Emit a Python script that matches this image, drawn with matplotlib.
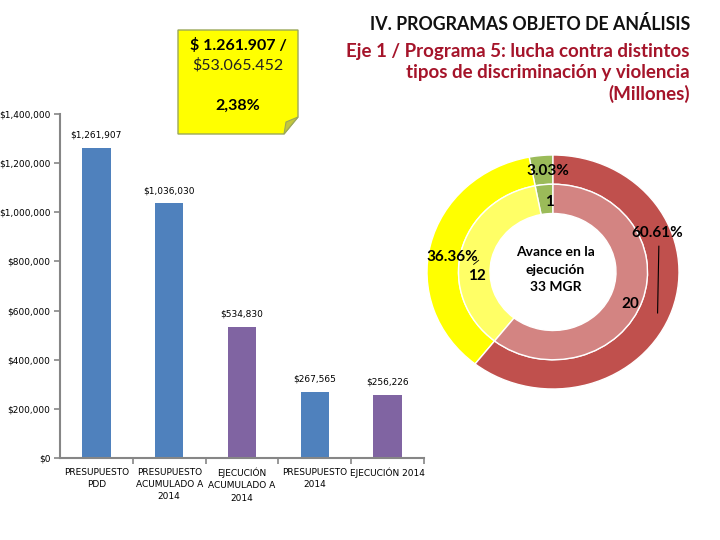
import matplotlib
matplotlib.use("Agg")
import matplotlib.pyplot as plt
from matplotlib.patches import Polygon
from matplotlib.ticker import FuncFormatter

# ---------------- data ----------------
categories = ["PRESUPUESTO\nPDD", "PRESUPUESTO\nACUMULADO A\n2014",
              "EJECUCIÓN\nACUMULADO A\n2014", "PRESUPUESTO\n2014", "EJECUCIÓN 2014"]
values = [1261907, 1036030, 534830, 267565, 256226]
bar_colors = ["#4F81BD", "#4F81BD", "#8064A2", "#4F81BD", "#8064A2"]
bar_labels = ["$1,261,907", "$1,036,030", "$534,830", "$267,565", "$256,226"]

donut_counts = [1, 12, 20]          # green, yellow, red (counter-clockwise from top)
outer_colors = ["#9BBB59", "#FFFF00", "#C0504D"]
inner_colors = ["#9BBB59", "#FFFF66", "#D38482"]
donut_total = sum(donut_counts)

title_black = "IV. PROGRAMAS OBJETO DE ANÁLISIS"
title_red = "Eje 1 / Programa 5: lucha contra distintos\ntipos de discriminación y violencia\n(Millones)"
note_line1 = "$ 1.261.907 /"
note_line2 = "$53.065.452"
note_line3 = "2,38%"
center_text = "Avance en la\nejecución\n33 MGR"

W, H = 720, 540
fig = plt.figure(figsize=(7.2, 5.4), dpi=100)
fig.patch.set_facecolor("white")

def fx(px):
    return px / W

def fy(py):
    return 1 - py / H

# ---------------- bar chart ----------------
axL, axR, axT, axB = 60, 424, 114, 458
ax = fig.add_axes([fx(axL), fy(axB), fx(axR - axL), (axB - axT) / H])
x = list(range(len(values)))
ax.bar(x, values, width=0.39, color=bar_colors, zorder=2)
ax.set_xlim(-0.5, len(values) - 0.5)
ax.set_ylim(0, 1400000)
ax.set_yticks(range(0, 1400001, 200000))
ax.yaxis.set_major_formatter(FuncFormatter(lambda v, p: "$0" if v == 0 else "${:,.0f}".format(v)))
ax.set_xticks(x)
ax.set_xticklabels(categories, fontsize=6.5, family="DejaVu Sans", linespacing=1.45)
ax.set_xticks([i + 0.5 for i in x], minor=True)
ax.tick_params(axis="x", which="major", length=0, pad=7)
ax.tick_params(axis="x", which="minor", length=4, color="#868686", width=1.2)
ax.tick_params(axis="y", length=4, color="#868686", width=1.2, labelsize=6.5, pad=3)
for s in ["top", "right"]:
    ax.spines[s].set_visible(False)
for s in ["left", "bottom"]:
    ax.spines[s].set_color("#868686")
    ax.spines[s].set_linewidth(1.5)
for xi, v, lab in zip(x, values, bar_labels):
    ax.annotate(lab, (xi, v), xytext=(0, 6), textcoords="offset points",
                ha="center", va="bottom", fontsize=6.5)

# ---------------- donut ----------------
cx, cy, rx, ry = 553, 272, 126, 117
half_w, half_h = 140, 130
axd = fig.add_axes([fx(cx - half_w), fy(cy + half_h), 2 * half_w / W, 2 * half_h / H])
wedge_kw = dict(edgecolor="white", linewidth=1)
axd.pie(donut_counts, radius=1.0, colors=outer_colors, startangle=90,
        counterclock=True, wedgeprops=dict(width=0.25, **wedge_kw))
axd.pie(donut_counts, radius=0.75, colors=inner_colors, startangle=90,
        counterclock=True, wedgeprops=dict(width=0.25, **wedge_kw))
axd.set_aspect("auto")
axd.set_xlim(-half_w / rx, half_w / rx)
axd.set_ylim(-half_h / ry, half_h / ry)
axd.axis("off")

pct = ["{:.2f}%".format(c / donut_total * 100) for c in donut_counts]
lab_font = dict(family="Lato", fontweight="bold", fontsize=11, color="black",
                ha="center", va="center")
pct_pos = [(-0.04, 0.86), (-0.80, 0.13), (0.83, 0.33)]
cnt_pos = [(-0.03, 0.60), (-0.60, -0.03), (0.61, -0.27)]
for p, (px_, py_) in zip(pct, pct_pos):
    axd.text(px_, py_, p, **lab_font)
for c, (px_, py_) in zip(donut_counts, cnt_pos):
    axd.text(px_, py_, str(c), **lab_font)
axd.plot([0.84, 0.83], [0.22, -0.35], color="black", lw=0.8)
axd.plot([-0.63, -0.59], [0.065, 0.10], color="black", lw=0.6)
axd.text(0.02, 0.02, center_text, family="Lato", fontweight="bold", fontsize=10,
         ha="center", va="center", linespacing=1.55)

# ---------------- overlay (title + sticky note) ----------------
ov = fig.add_axes([0, 0, 1, 1], zorder=5)
ov.set_xlim(0, W)
ov.set_ylim(H, 0)
ov.axis("off")
ov.patch.set_alpha(0)

note = Polygon([(178, 30), (298, 30), (298, 117), (284, 134), (178, 134)],
               closed=True, facecolor="#FFFF00", edgecolor="#9BA85A", lw=1)
fold = Polygon([(298, 117), (284, 134), (286, 122)], closed=True,
               facecolor="#C3C73A", edgecolor="#9BA85A", lw=0.8)
ov.add_patch(note)
ov.add_patch(fold)
ov.text(238, 46, note_line1, family="Lato", fontweight="bold", fontsize=11.5,
        ha="center", va="center")
ov.text(238, 65, note_line2, family="Lato", fontsize=11.5, ha="center", va="center",
        color="#222222")
ov.text(238, 106, note_line3, family="Lato", fontweight="bold", fontsize=11.5,
        ha="center", va="center")

ov.text(690, 24, title_black, family="Lato", fontweight="bold", fontsize=12.8,
        ha="right", va="center", color="#111111")
ov.text(690, 73, title_red, family="Lato", fontweight="bold", fontsize=13.5,
        ha="right", va="center", color="#A5142A", linespacing=1.3, multialignment="right")

fig.savefig("out.png", dpi=100)
